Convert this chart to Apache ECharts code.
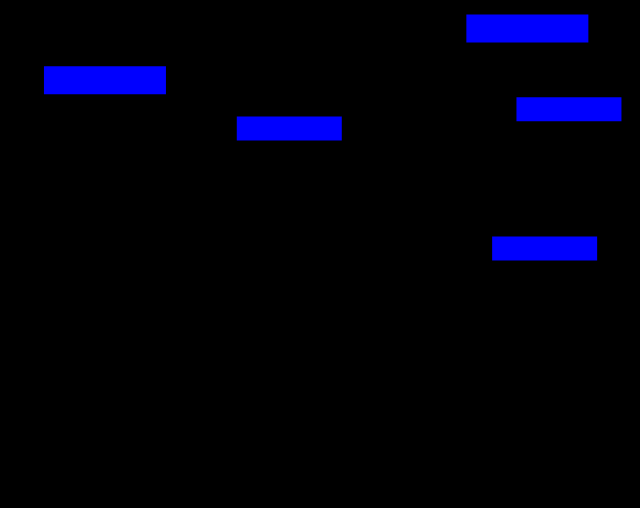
<!DOCTYPE html>
<html>
<head>
<meta charset="utf-8">
<script src="https://cdn.jsdelivr.net/npm/echarts@6/dist/echarts.min.js"></script>
<style>
html,body{margin:0;padding:0;background:#000;}
#chart{width:640px;height:508px;}
</style>
</head>
<body>
<div id="chart"></div>
<script>
// Data
var xValues = [16.4, 45.2, 82.4, 88.9, 85.1];
var yValues = [84.2, 74.7, 94.4, 78.5, 51.1];
var groups  = ['large', 'small', 'large', 'small', 'small'];

var symbolSizes = { large: [122, 28], small: [105, 24] };

var chart = echarts.init(document.getElementById('chart'));
chart.setOption({
  backgroundColor: '#000000',
  animation: false,
  grid: { left: 0, right: 0, top: 0, bottom: 0 },
  xAxis: {
    type: 'value', min: 0, max: 100,
    show: false
  },
  yAxis: {
    type: 'value', min: 0, max: 100,
    show: false
  },
  series: [{
    type: 'scatter',
    symbol: 'rect',
    data: xValues.map(function (x, i) {
      return {
        value: [x, yValues[i]],
        symbolSize: symbolSizes[groups[i]]
      };
    }),
    itemStyle: { color: '#0000ff', opacity: 1 }
  }]
});
</script>
</body>
</html>
